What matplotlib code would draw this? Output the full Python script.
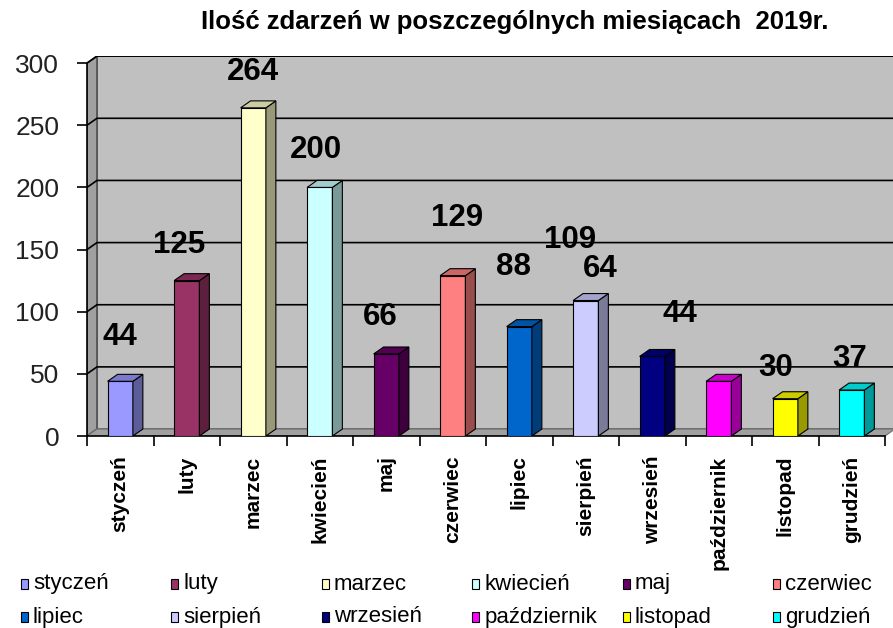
import numpy as np
import matplotlib
matplotlib.use("Agg")
import matplotlib.pyplot as plt
from matplotlib.patches import Polygon, Rectangle
import matplotlib.colors as mcolors

# Data
months = ["styczeń", "luty", "marzec", "kwiecień", "maj", "czerwiec",
          "lipiec", "sierpień", "wrzesień", "październik", "listopad", "grudzień"]
tick_names = ["styczeń", "luty", "marzec", "kwiecień", "maj", "czerwiec",
              "lipiec", "sierpień", "wrzesień", "październik", "listopad", "grudzień"]
counts = [44, 125, 264, 200, 66, 129, 88, 109, 64, 44, 30, 37]
colors = ["#9999FF", "#993366", "#FFFFCC", "#CCFFFF", "#660066", "#FF8080",
          "#0066CC", "#CCCCFF", "#000080", "#FF00FF", "#FFFF00", "#00FFFF"]
yticks = [0, 50, 100, 150, 200, 250, 300]

# label placement quirks (offset from bar, like in the Excel original)
lbl_dx = [0, -0.12, 0, -0.06, -0.09, 0.06, -0.08, -0.23, -0.78, -0.59, -0.14, -0.03]
lbl_dy = [36, 29, 29, 30, 30, 46, 48, 49, 70, 54, 25, 25]

plt.rcParams['font.family'] = ['Liberation Sans', 'DejaVu Sans']

fig = plt.figure(figsize=(8.93, 6.28), dpi=100)
W, H = 893, 628

dx = 0.15   # depth in category units
dy = 5.6    # depth in value units
n = len(counts)
x0, x1 = -0.5, n - 0.5
ymax = 300

left_px, bottom_px = 87, 436
ppu_x = 66.5
ppu_y = 1.243
ax_w = (x1 + dx - x0) * ppu_x
ax_h = (ymax + dy) * ppu_y
ax = fig.add_axes([left_px / W, (H - bottom_px) / H, ax_w / W, ax_h / H])
ax.set_xlim(x0, x1 + dx)
ax.set_ylim(0, ymax + dy)
ax.patch.set_alpha(0)

# walls and floor
back = Rectangle((x0 + dx, dy), x1 - x0, ymax, facecolor="#C0C0C0",
                 edgecolor="#606060", lw=1.2, zorder=0)
ax.add_patch(back)
side = Polygon([(x0, 0), (x0 + dx, dy), (x0 + dx, ymax + dy), (x0, ymax)],
               closed=True, facecolor="#A0A0A0", edgecolor="#505050", lw=1.2, zorder=0.5)
ax.add_patch(side)
floor = Polygon([(x0, 0), (x1, 0), (x1 + dx, dy), (x0 + dx, dy)],
                closed=True, facecolor="#A0A0A0", edgecolor="#707070", lw=0.8, zorder=0.5)
ax.add_patch(floor)

# gridlines on the walls
for v in yticks[1:]:
    ax.plot([x0, x0 + dx, x1 + dx], [v, v + dy, v + dy], color="black", lw=1.2, zorder=1)

# 3D bars
bw = 0.38
for i, (v, c) in enumerate(zip(counts, colors)):
    base = np.array(mcolors.to_rgb(c))
    l = i - bw / 2
    r = i + bw / 2
    ax.add_patch(Rectangle((l, 0), bw, v, facecolor=c, edgecolor="black", lw=0.8, zorder=3))
    ax.add_patch(Polygon([(r, 0), (r + dx, dy), (r + dx, v + dy), (r, v)], closed=True,
                         facecolor=base * 0.6, edgecolor="black", lw=0.8, zorder=3))
    ax.add_patch(Polygon([(l, v), (r, v), (r + dx, v + dy), (l + dx, v + dy)], closed=True,
                         facecolor=base * 0.8, edgecolor="black", lw=0.8, zorder=3))
    ax.text(i + lbl_dx[i], v + lbl_dy[i], str(v), ha="center", va="center",
            fontsize=22.5, fontweight="bold", zorder=5)

# axes
for s in ["top", "right"]:
    ax.spines[s].set_visible(False)
ax.spines['left'].set_bounds(0, ymax)
ax.spines['bottom'].set_bounds(x0, x1)
ax.spines['left'].set_linewidth(1.2)
ax.spines['bottom'].set_linewidth(1.2)
ax.set_yticks(yticks)
ax.set_yticklabels([str(t) for t in yticks], fontsize=19, color="#222222")
ax.tick_params(axis='y', length=7, width=1.2, pad=13)
ax.set_xticks(np.arange(n))
ax.set_xticklabels(tick_names, rotation=90, fontsize=15, fontweight="bold", va="top")
ax.set_xticks(np.arange(n + 1) - 0.5, minor=True)
ax.tick_params(axis='x', which='major', length=0, pad=14)
ax.tick_params(axis='x', which='minor', length=7, width=1.2)

# title
fig.text(515 / W, 1 - 22 / H, "Ilość zdarzeń w poszczególnych miesiącach  2019r.",
         ha="center", va="center", fontsize=18.5, fontweight="bold")

# legend
for i, (m, c) in enumerate(zip(months, colors)):
    col, row = i % 6, i // 6
    xm = 21 + 150.4 * col
    yc = 584 + 33 * row
    fig.patches.append(Rectangle((xm / W, 1 - (yc + 5) / H), 7 / W, 10 / H,
                                 facecolor=c, edgecolor="black", lw=0.8,
                                 transform=fig.transFigure, figure=fig))
    fig.text((xm + 12) / W, 1 - yc / H, m, ha="left", va="center", fontsize=16)

fig.savefig("out.png", dpi=100)
